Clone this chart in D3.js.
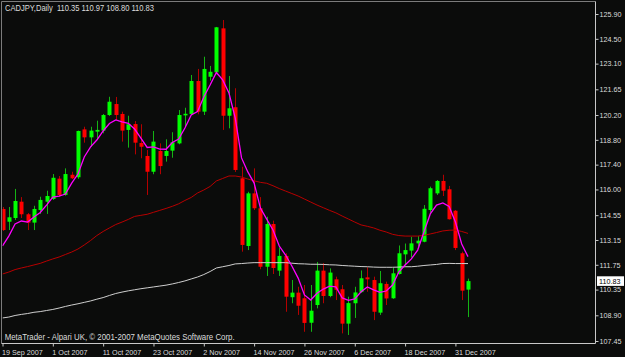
<!DOCTYPE html>
<html><head><meta charset="utf-8">
<script src="https://cdn.jsdelivr.net/npm/d3@7"></script>
<style>html,body{margin:0;padding:0;background:#0b0c0b;overflow:hidden}</style>
</head><body>
<svg id="c" width="625" height="357"></svg>
<script>
const symbolTitle = "CADJPY,Daily";
const lastBar = "110.35 110.97 108.80 110.83";
const footerText = "MetaTrader - Alpari UK, \u00a9 2001-2007 MetaQuotes Software Corp.";
const dateTickBars = [0, 8, 16, 24, 32, 40, 48, 56, 64, 72];
const dateTickLabels = ["19 Sep 2007","1 Oct 2007","11 Oct 2007","23 Oct 2007","2 Nov 2007","14 Nov 2007","26 Nov 2007","6 Dec 2007","18 Dec 2007","31 Dec 2007"];
const priceTicks = [125.90,124.50,123.10,121.65,120.20,118.80,117.40,116.00,114.55,113.15,111.75,110.35,108.90,107.45];
const lastPrice = 110.83;

const open = [114.90,114.18,114.39,115.31,114.60,114.13,114.84,115.31,115.46,116.61,
115.69,116.83,116.69,119.39,118.94,119.26,119.32,120.20,120.82,120.26,
119.36,119.69,118.62,117.89,117.00,118.17,117.89,118.19,118.60,120.18,
120.26,122.12,120.39,122.36,122.61,125.09,120.16,120.64,116.63,112.81,
115.78,114.94,111.64,114.05,111.42,112.25,109.92,110.18,109.86,108.48,
109.48,111.42,109.99,110.93,110.37,108.43,109.58,110.21,111.04,110.89,
109.05,110.67,109.86,111.23,112.34,112.55,112.96,113.05,114.84,115.78,
116.48,116.01,114.80,112.40,110.35];
const high = [115.01,115.01,116.03,115.57,114.67,115.08,115.59,115.93,116.87,116.76,
117.19,117.00,119.32,119.54,119.54,119.88,120.26,121.23,121.22,120.39,
120.16,119.86,119.68,118.23,119.30,118.60,118.83,119.23,120.48,120.61,
122.46,122.80,123.49,122.97,125.17,125.56,122.40,121.71,117.28,115.87,
117.19,115.57,114.46,114.24,112.73,112.40,110.89,110.51,110.61,110.61,
111.91,111.85,111.55,111.08,110.61,109.95,110.51,111.43,111.61,111.08,
111.40,110.80,111.57,112.84,112.95,113.33,113.37,115.12,116.16,116.53,
116.83,116.20,114.84,112.49,110.97];
const low = [113.66,113.71,114.28,114.39,113.71,113.71,114.62,114.62,115.41,115.59,
115.65,116.59,116.60,118.64,118.41,118.83,119.17,120.15,119.92,118.70,
118.36,117.98,117.76,115.69,116.86,116.86,117.57,117.79,118.55,119.54,
120.20,120.24,120.20,122.14,122.50,119.36,119.45,116.99,112.49,112.58,
114.84,111.50,111.12,111.23,111.12,109.10,109.58,108.92,107.97,107.97,
109.29,109.58,109.92,109.76,107.88,107.79,108.75,110.16,110.23,108.63,
108.92,109.48,109.83,111.20,111.74,112.17,112.77,113.02,114.69,115.69,
115.63,114.30,112.58,109.76,108.80];
const close = [113.71,114.43,115.35,114.60,114.13,114.90,115.41,115.63,116.66,115.69,
116.87,116.63,119.30,118.94,119.32,119.36,120.20,120.95,120.20,119.32,
119.68,118.64,118.41,117.00,118.70,117.32,118.17,118.66,120.20,120.27,
122.12,120.39,122.80,122.64,125.15,120.16,120.58,117.10,112.87,115.78,
114.94,111.64,114.05,111.57,112.25,109.95,110.18,109.44,108.47,109.16,
111.42,109.99,111.31,110.34,108.43,109.59,110.19,110.99,110.93,109.10,
110.71,109.85,111.27,112.40,112.58,112.96,113.11,114.91,116.07,116.48,
115.93,114.32,112.70,110.29,110.83];

const maFast = [112.81,113.37,114.05,114.22,114.16,114.45,114.70,115.12,115.57,115.63,
115.74,116.36,116.87,117.83,118.40,118.79,119.30,119.72,119.92,119.82,
119.73,119.41,118.90,118.37,118.40,118.28,118.27,118.65,118.85,119.47,
120.20,120.39,121.22,121.89,122.60,122.18,121.44,120.03,117.78,116.99,
116.36,114.95,114.33,113.71,112.81,112.30,111.68,111.00,110.05,109.76,
110.14,110.38,110.55,110.50,109.88,109.74,109.82,110.23,110.50,110.33,
110.19,110.27,110.61,111.34,111.74,112.08,112.58,113.60,114.62,115.12,
115.24,115.04,114.16,112.92,112.21];
const maMid = [111.23,111.34,111.48,111.57,111.65,111.74,111.83,111.96,112.08,112.19,
112.33,112.47,112.64,112.87,113.12,113.40,113.63,113.83,114.02,114.16,
114.31,114.48,114.54,114.60,114.71,114.82,114.93,115.05,115.19,115.38,
115.55,115.80,115.97,116.17,116.48,116.62,116.76,116.76,116.70,116.59,
116.49,116.40,116.35,116.21,116.05,115.91,115.77,115.63,115.46,115.29,
115.12,114.97,114.82,114.68,114.50,114.33,114.16,114.00,113.92,113.83,
113.70,113.60,113.47,113.40,113.37,113.37,113.37,113.41,113.49,113.57,
113.66,113.70,113.71,113.63,113.52];
const maSlow = [108.75,108.80,108.89,108.95,109.00,109.07,109.11,109.17,109.23,109.31,
109.40,109.48,109.55,109.63,109.71,109.81,109.90,110.02,110.13,110.21,
110.28,110.34,110.40,110.45,110.50,110.55,110.60,110.67,110.75,110.84,
110.95,111.06,111.20,111.37,111.57,111.64,111.71,111.80,111.82,111.85,
111.87,111.87,111.87,111.87,111.87,111.87,111.84,111.81,111.80,111.78,
111.78,111.77,111.75,111.74,111.71,111.69,111.67,111.65,111.64,111.62,
111.61,111.61,111.61,111.62,111.64,111.64,111.67,111.71,111.74,111.77,
111.82,111.83,111.82,111.82,111.82];

const W = 625, H = 357;
const FONT = "'Liberation Sans', Arial, sans-serif";
const svg = d3.select("#c");
svg.append("rect").attr("width", W).attr("height", H).attr("fill", "#0b0c0b");

const x = d3.scaleLinear().domain([0, open.length - 1]).range([2.5, 468]);
const y = d3.scaleLinear().domain([107.45, 125.90]).range([341, 14]);

svg.append("clipPath").attr("id", "clip").append("rect")
  .attr("x", 2.5).attr("y", 2.5).attr("width", 592.5).attr("height", 340.5);

const plot = svg.append("g").attr("clip-path", "url(#clip)");
const bars = open.map((o, i) => ({i, o, h: high[i], l: low[i], c: close[i]}));

const cg = plot.append("g");
cg.selectAll("line.wick").data(bars).join("line")
  .attr("class", "wick")
  .attr("x1", d => Math.round(x(d.i)) + 0.5).attr("x2", d => Math.round(x(d.i)) + 0.5)
  .attr("y1", d => y(d.h)).attr("y2", d => y(d.l))
  .attr("stroke", d => d.c >= d.o ? "#14b414" : "#b40000").attr("stroke-width", 1);
cg.selectAll("rect.body").data(bars).join("rect")
  .attr("class", "body")
  .attr("x", d => Math.round(x(d.i)) - 1.5).attr("width", 4)
  .attr("y", d => y(Math.max(d.o, d.c)))
  .attr("height", d => Math.max(1.2, Math.abs(y(d.o) - y(d.c))))
  .attr("fill", d => d.c >= d.o ? "#00ff00" : "#ff0000");

const line = arr => d3.line().x((d, i) => x(i)).y(d => y(d))(arr);
plot.append("path").attr("d", line(maSlow)).attr("fill", "none").attr("stroke", "#cfcfcf").attr("stroke-width", 1);
plot.append("path").attr("d", line(maMid)).attr("fill", "none").attr("stroke", "#b80000").attr("stroke-width", 1);
plot.append("path").attr("d", line(maFast)).attr("fill", "none").attr("stroke", "#ff00ff").attr("stroke-width", 1.3);

// frame
svg.append("line").attr("x1", 1.5).attr("x2", 595.5).attr("y1", 1.5).attr("y2", 1.5).attr("stroke", "#7c7c7c");
svg.append("line").attr("x1", 1.5).attr("x2", 1.5).attr("y1", 1.5).attr("y2", 343.5).attr("stroke", "#7c7c7c");
svg.append("line").attr("x1", 595.5).attr("x2", 595.5).attr("y1", 1.5).attr("y2", 343.5).attr("stroke", "#c8c8c8");
svg.append("line").attr("x1", 1.5).attr("x2", 595.5).attr("y1", 343.5).attr("y2", 343.5).attr("stroke", "#c8c8c8");

// right price axis
const ya = svg.append("g").attr("transform", "translate(595.5,0)")
  .call(d3.axisRight(y).tickValues(priceTicks).tickFormat(d3.format(".2f")).tickSize(3).tickSizeOuter(0).tickPadding(1));
ya.select(".domain").remove();
ya.selectAll(".tick line").attr("stroke", "#c8c8c8");
ya.selectAll(".tick text").attr("fill", "#dcdcdc").style("font-family", FONT).style("font-size", "7.2px");

// bottom date axis
const xa = svg.append("g").attr("transform", "translate(0,343.5)")
  .call(d3.axisBottom(x).tickValues(dateTickBars).tickFormat((d, i) => dateTickLabels[i]).tickSize(3).tickSizeOuter(0).tickPadding(3));
xa.select(".domain").remove();
xa.selectAll(".tick line").attr("stroke", "#c8c8c8");
xa.selectAll(".tick text").attr("fill", "#dcdcdc").attr("text-anchor", "start").attr("dx", "-1")
  .style("font-family", FONT).style("font-size", "7.2px");

// current price tag
const ly = y(lastPrice);
svg.append("rect").attr("x", 597).attr("y", ly - 4.8).attr("width", 27).attr("height", 9.6).attr("fill", "#ffffff");
svg.append("text").attr("x", 599).attr("y", ly + 2.6).text(d3.format(".2f")(lastPrice))
  .attr("fill", "#000").style("font-family", FONT).style("font-size", "7.2px");

// header & footer
svg.append("text").attr("x", 5).attr("y", 11.3).attr("fill", "#dcdcdc")
  .attr("textLength", 149).attr("lengthAdjust", "spacingAndGlyphs")
  .style("font-family", FONT).style("font-size", "8.2px").style("white-space", "pre")
  .text(symbolTitle + "  " + lastBar);
svg.append("text").attr("x", 4.7).attr("y", 339.5).attr("fill", "#dcdcdc")
  .attr("textLength", 230).attr("lengthAdjust", "spacingAndGlyphs")
  .style("font-family", FONT).style("font-size", "8.2px")
  .text(footerText);
</script>
</body></html>
